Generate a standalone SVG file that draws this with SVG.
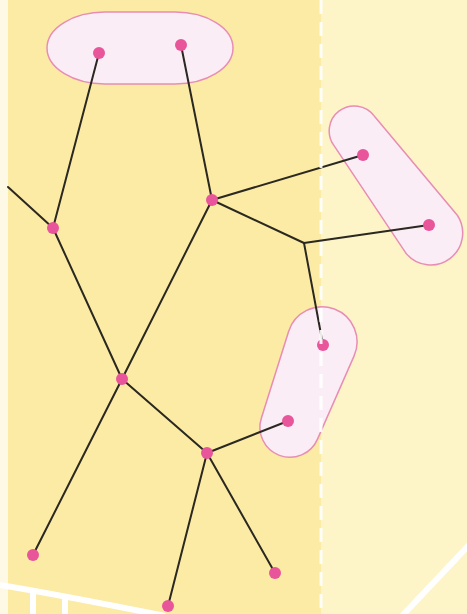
<svg xmlns="http://www.w3.org/2000/svg" width="467" height="614" viewBox="0 0 467 614">
  <defs>
    <style>
      .blob { fill: #FBEDF6; stroke: #E88DB3; stroke-width: 1.5; }
      .edge { stroke: #2A2820; stroke-width: 2; fill: none; stroke-linecap: round; }
      .dot { fill: #E8559A; }
      .road { stroke: #FFFFFF; stroke-width: 6; fill: none; }
    </style>
  </defs>
  <!-- background -->
  <rect x="0" y="0" width="467" height="614" fill="#FDF4C8"/>
  <rect x="0" y="0" width="8" height="614" fill="#FEF9E4"/>
  <rect x="8" y="0" width="313" height="614" fill="#FBEBA5"/>
  <!-- roads -->
  <g id="roads">
    <path class="road" d="M0 585 Q60 595 165 616"/>
    <line class="road" x1="33" y1="590" x2="33" y2="614" stroke-width="5"/>
    <line class="road" x1="65" y1="597" x2="65" y2="614" stroke-width="5"/>
    <line class="road" x1="470" y1="544" x2="402" y2="616"/>
  </g>
  <!-- groups (blobs) -->
  <g id="group-top"><rect class="blob" x="47" y="12" width="186" height="72" rx="58" ry="36"/></g>
  <g id="group-right"><path class="blob" d="M374.2 115.9 L457.5 215.5 A32 32 0 0 1 406.4 253.8 L334.2 145.9 A25 25 0 0 1 374.2 115.9 Z"/></g>
  <g id="group-bottom"><path class="blob" d="M354 356.1 L317.5 439.1 A30 30 0 0 1 261.4 418 L288.6 331.5 A35 35 0 1 1 354 356.1 Z"/></g>
  <!-- connectors -->
  <g id="connectors">
    <line class="edge" x1="8" y1="187" x2="53" y2="228"/>
    <line class="edge" x1="99" y1="53" x2="53" y2="228"/>
    <line class="edge" x1="181" y1="45" x2="212" y2="200"/>
    <line class="edge" x1="212" y1="200" x2="363" y2="155"/>
    <line class="edge" x1="212" y1="200" x2="304" y2="243"/>
    <line class="edge" x1="304" y1="243" x2="429" y2="225"/>
    <line class="edge" x1="304" y1="243" x2="323" y2="345"/>
    <line class="edge" x1="212" y1="200" x2="122" y2="379"/>
    <line class="edge" x1="53" y1="228" x2="122" y2="379"/>
    <line class="edge" x1="122" y1="379" x2="207" y2="453"/>
    <line class="edge" x1="122" y1="379" x2="33" y2="555"/>
    <line class="edge" x1="207" y1="453" x2="288" y2="421"/>
    <line class="edge" x1="207" y1="453" x2="168" y2="606"/>
    <line class="edge" x1="207" y1="453" x2="275" y2="573"/>
  </g>
  <!-- nodes -->
  <g id="n1"><circle class="dot" cx="99" cy="53" r="6"/></g>
  <g id="n2"><circle class="dot" cx="181" cy="45" r="6"/></g>
  <g id="n3"><circle class="dot" cx="53" cy="228" r="6"/></g>
  <g id="n4"><circle class="dot" cx="212" cy="200" r="6"/></g>
  <g id="n5"><circle class="dot" cx="363" cy="155" r="6"/></g>
  <g id="n6"><circle class="dot" cx="429" cy="225" r="6"/></g>
  <g id="n7"><circle class="dot" cx="323" cy="345" r="6"/></g>
  <g id="n8"><circle class="dot" cx="122" cy="379" r="6"/></g>
  <g id="n9"><circle class="dot" cx="288" cy="421" r="6"/></g>
  <g id="n10"><circle class="dot" cx="207" cy="453" r="6"/></g>
  <g id="n11"><circle class="dot" cx="33" cy="555" r="6"/></g>
  <g id="n12"><circle class="dot" cx="168" cy="606" r="6"/></g>
  <g id="n13"><circle class="dot" cx="275" cy="573" r="6"/></g>
  <!-- dashed boundary -->
  <line x1="321" y1="0" x2="321" y2="614" stroke="#FFFFFF" stroke-width="3" stroke-dasharray="14 8" opacity="0.9"/>
</svg>
